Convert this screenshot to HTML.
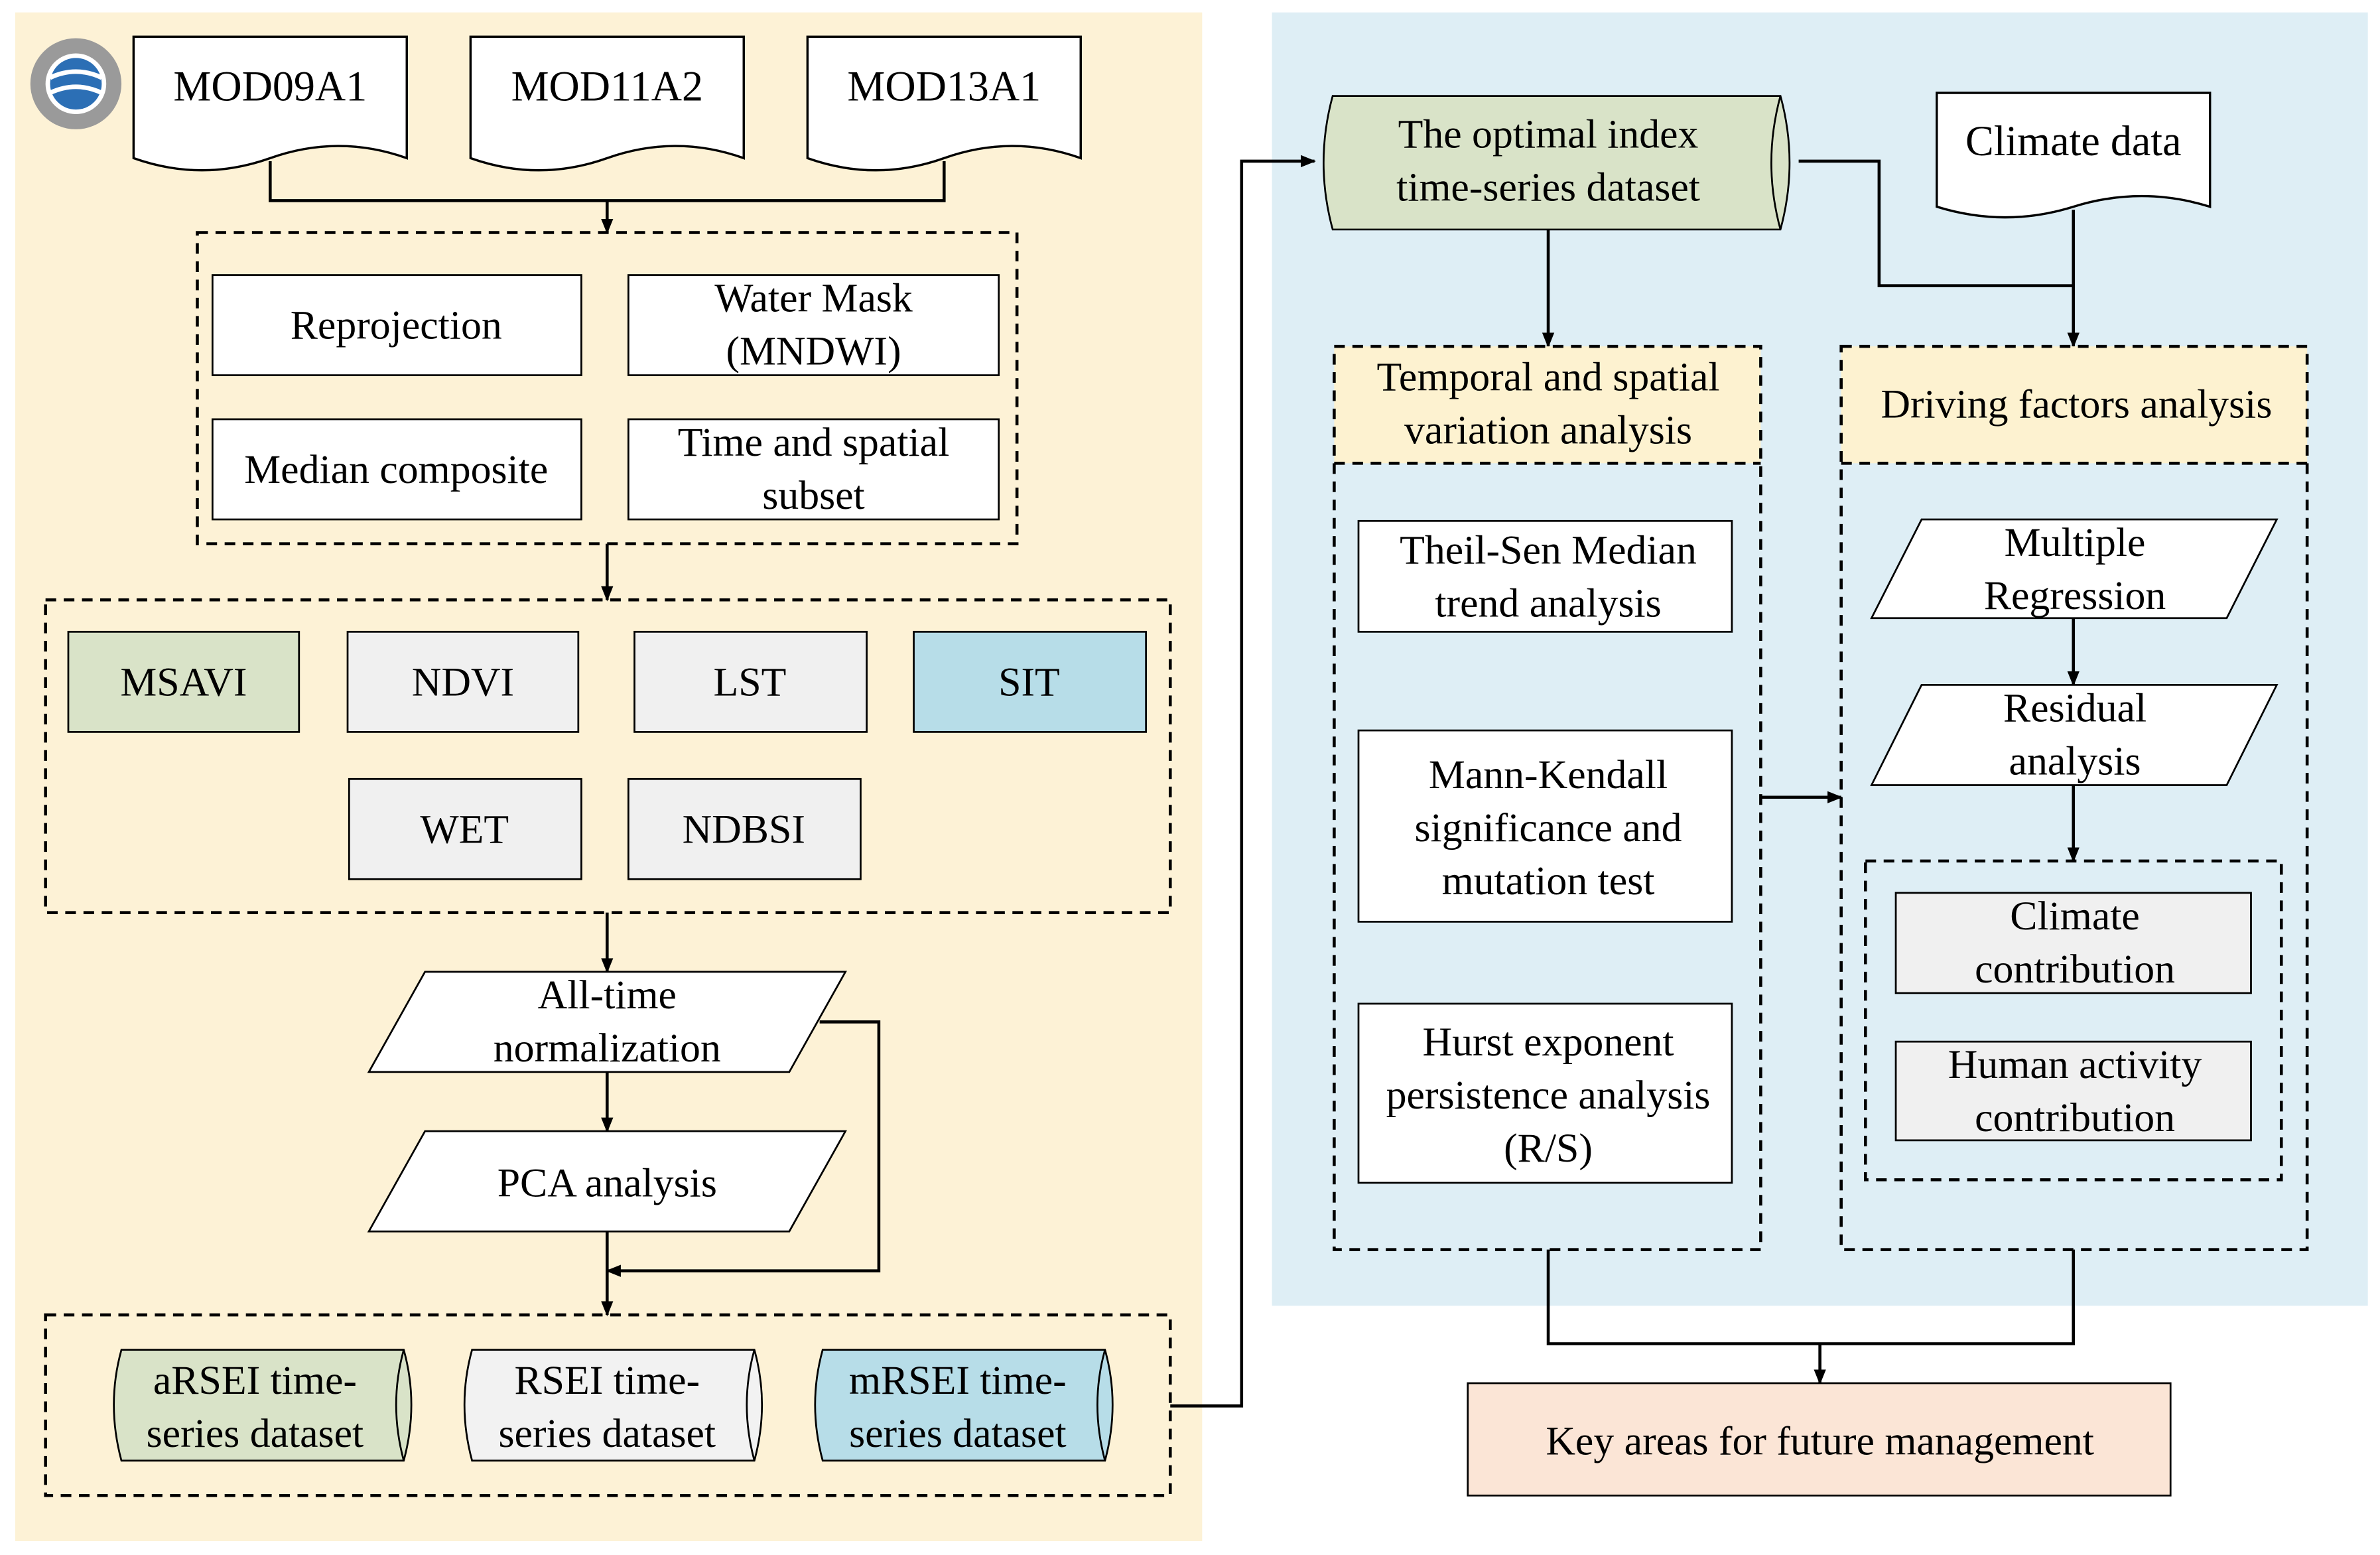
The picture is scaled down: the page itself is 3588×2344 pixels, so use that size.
<!DOCTYPE html>
<html><head><meta charset="utf-8"><style>html,body{margin:0;padding:0;background:#fff}svg{display:block}</style></head><body>
<svg width="3588" height="2344" viewBox="0 0 1568 1024" xmlns="http://www.w3.org/2000/svg" font-family="Liberation Serif, serif" font-size="27" fill="#000">
<defs><marker id="a" markerWidth="10" markerHeight="10" refX="9" refY="5" orient="auto" markerUnits="userSpaceOnUse"><path d="M0,1 L10,5 L0,9 z" fill="#000"/></marker></defs>
<rect x="10" y="8" width="782" height="1007" fill="#fdf2d6"/>
<rect x="838" y="8" width="722" height="852" fill="#deeef5"/>
<!-- logo -->
<g transform="translate(50,55)"><circle r="30" fill="#9a9a9a"/><circle r="20" fill="#fff"/><circle r="17" fill="#2c6fb5"/><path d="M-17,-4 Q0,-12 17,-4 M-17,6 Q0,-2 17,6" stroke="#fff" stroke-width="3" fill="none"/></g>
<g stroke="#000" stroke-width="1.5" fill="#fff">
<path d="M88,24 H268 V104 Q223,88 178,104 Q133,120 88,104 Z"/>
<path d="M310,24 H490 V104 Q445,88 400,104 Q355,120 310,104 Z"/>
<path d="M532,24 H712 V104 Q667,88 622,104 Q577,120 532,104 Z"/>
<path d="M1276,61 H1456 V136 Q1411,122 1366,136 Q1321,150 1276,136 Z"/>
</g>
<g font-size="28" text-anchor="middle"><text x="178" y="66">MOD09A1</text><text x="400" y="66">MOD11A2</text><text x="622" y="66">MOD13A1</text><text x="1366" y="102">Climate data</text></g>
<g stroke="#000" stroke-width="2" fill="none">
<path d="M178,106 V132 H622 V106"/>
<path d="M400,132 V153" marker-end="url(#a)"/>
<path d="M400,358 V395" marker-end="url(#a)"/>
<path d="M400,601 V640" marker-end="url(#a)"/>
<path d="M400,706 V745" marker-end="url(#a)"/>
<path d="M400,811 V866" marker-end="url(#a)"/>
<path d="M540,673 H579 V837 H400" marker-end="url(#a)"/>
<path d="M771,926 H818 V106 H866" marker-end="url(#a)"/>
<path d="M1185,106 H1238 V188 H1366"/>
<path d="M1366,138 V228" marker-end="url(#a)"/>
<path d="M1020,151 V228" marker-end="url(#a)"/>
<path d="M1366,407 V451" marker-end="url(#a)"/>
<path d="M1366,517 V567" marker-end="url(#a)"/>
<path d="M1160,525 H1213" marker-end="url(#a)"/>
<path d="M1020,823 V885 H1366 V823"/>
<path d="M1199,885 V911" marker-end="url(#a)"/>
</g>
<g stroke="#000" stroke-width="2" fill="none" stroke-dasharray="7,5">
<rect x="130" y="153" width="540" height="205"/>
<rect x="30" y="395" width="741" height="206"/>
<rect x="30" y="866" width="741" height="119"/>
</g>
<rect x="879" y="228" width="281" height="77" fill="#fdf2d0"/>
<rect x="1213" y="228" width="307" height="77" fill="#fdf2d0"/>
<g stroke="#000" stroke-width="2" fill="none" stroke-dasharray="7,5">
<rect x="879" y="228" width="281" height="595"/><line x1="879" y1="305" x2="1160" y2="305"/>
<rect x="1213" y="228" width="307" height="595"/><line x1="1213" y1="305" x2="1520" y2="305"/>
<rect x="1229" y="567" width="274" height="210"/>
</g>
<g stroke="#000" stroke-width="1.2">
<rect x="140" y="181" width="243" height="66" fill="#fff"/>
<rect x="414" y="181" width="244" height="66" fill="#fff"/>
<rect x="140" y="276" width="243" height="66" fill="#fff"/>
<rect x="414" y="276" width="244" height="66" fill="#fff"/>
<rect x="45" y="416" width="152" height="66" fill="#d9e3c8"/>
<rect x="229" y="416" width="152" height="66" fill="#f0f0f0"/>
<rect x="418" y="416" width="153" height="66" fill="#f0f0f0"/>
<rect x="602" y="416" width="153" height="66" fill="#b7dde8"/>
<rect x="230" y="513" width="153" height="66" fill="#f0f0f0"/>
<rect x="414" y="513" width="153" height="66" fill="#f0f0f0"/>
<polygon points="280,640 557,640 520,706 243,706" fill="#fff"/>
<polygon points="280,745 557,745 520,811 243,811" fill="#fff"/>
<rect x="895" y="343" width="246" height="73" fill="#fff"/>
<rect x="895" y="481" width="246" height="126" fill="#fff"/>
<rect x="895" y="661" width="246" height="118" fill="#fff"/>
<polygon points="1266,342 1500,342 1467,407 1233,407" fill="#fff"/>
<polygon points="1266,451 1500,451 1467,517 1233,517" fill="#fff"/>
<rect x="1249" y="588" width="234" height="66" fill="#f0f0f0"/>
<rect x="1249" y="686" width="234" height="65" fill="#f0f0f0"/>
<rect x="967" y="911" width="463" height="74" fill="#fbe5d6"/>
<!-- cylinders -->
<path d="M80,889 H266 Q276,925 266,962 H80 Q70,925 80,889 Z" fill="#d9e3c8"/><path d="M266,889 Q256,925 266,962" fill="none"/>
<path d="M311,889 H497 Q507,925 497,962 H311 Q301,925 311,889 Z" fill="#f2f2f2"/><path d="M497,889 Q487,925 497,962" fill="none"/>
<path d="M542,889 H728 Q738,925 728,962 H542 Q532,925 542,889 Z" fill="#b7dde8"/><path d="M728,889 Q718,925 728,962" fill="none"/>
<path d="M878,63 H1173 Q1185,107 1173,151 H878 Q866,107 878,63 Z" fill="#d9e3c8"/><path d="M1173,63 Q1161,107 1173,151" fill="none"/>
</g>
<g text-anchor="middle">
<text x="261" y="223">Reprojection</text>
<text x="536" y="205">Water Mask</text><text x="536" y="240">(MNDWI)</text>
<text x="261" y="318">Median composite</text>
<text x="536" y="300">Time and spatial</text><text x="536" y="335">subset</text>
<text x="121" y="458">MSAVI</text><text x="305" y="458">NDVI</text><text x="494" y="458">LST</text><text x="678" y="458">SIT</text>
<text x="306" y="555">WET</text><text x="490" y="555">NDBSI</text>
<text x="400" y="664">All-time</text><text x="400" y="699">normalization</text>
<text x="400" y="788">PCA analysis</text>
<text x="168" y="918">aRSEI time-</text><text x="168" y="953">series dataset</text>
<text x="400" y="918">RSEI time-</text><text x="400" y="953">series dataset</text>
<text x="631" y="918">mRSEI time-</text><text x="631" y="953">series dataset</text>
<text x="1020" y="97">The optimal index</text><text x="1020" y="132">time-series dataset</text>
<text x="1020" y="257">Temporal and spatial</text><text x="1020" y="292">variation analysis</text>
<text x="1368" y="275">Driving factors analysis</text>
<text x="1020" y="371">Theil-Sen Median</text><text x="1020" y="406">trend analysis</text>
<text x="1020" y="519">Mann-Kendall</text><text x="1020" y="554">significance and</text><text x="1020" y="589">mutation test</text>
<text x="1020" y="695">Hurst exponent</text><text x="1020" y="730">persistence analysis</text><text x="1020" y="765">(R/S)</text>
<text x="1367" y="366">Multiple</text><text x="1367" y="401">Regression</text>
<text x="1367" y="475">Residual</text><text x="1367" y="510">analysis</text>
<text x="1367" y="612">Climate</text><text x="1367" y="647">contribution</text>
<text x="1367" y="710">Human activity</text><text x="1367" y="745">contribution</text>
<text x="1199" y="958">Key areas for future management</text>
</g>
</svg>
</body></html>
